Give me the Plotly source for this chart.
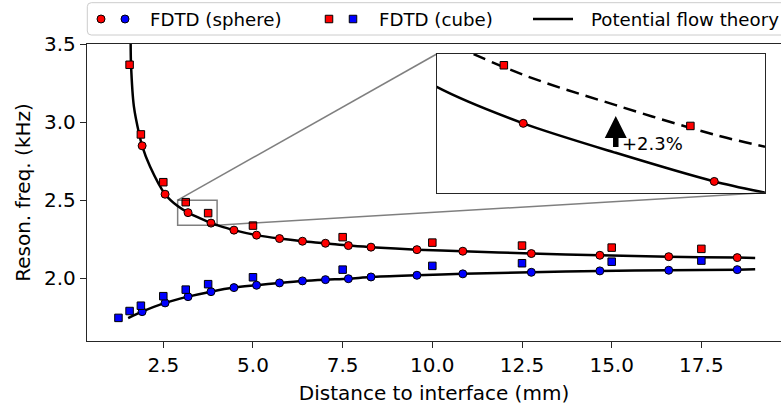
import plotly.graph_objects as go

# ---------------- data ----------------
sphere_x = [1.91, 2.55, 3.19, 3.83, 4.47, 5.10, 5.74, 6.38, 7.02, 7.66, 8.29,
            9.57, 10.85, 12.76, 14.67, 16.59, 18.50]
sphere_upper = [2.848, 2.538, 2.420, 2.353, 2.308, 2.276, 2.254, 2.237, 2.224,
                2.209, 2.199, 2.183, 2.173, 2.158, 2.147, 2.138, 2.132]
sphere_lower = [1.786, 1.842, 1.882, 1.914, 1.940, 1.955, 1.970, 1.983, 1.991,
                1.997, 2.008, 2.019, 2.028, 2.038, 2.047, 2.051, 2.055]

cube_upper_x = [1.56, 1.875, 2.5, 3.125, 3.75, 5.0, 7.5, 10.0, 12.5, 15.0, 17.5]
cube_upper = [3.367, 2.921, 2.615, 2.487, 2.417, 2.337, 2.263, 2.228, 2.209,
              2.196, 2.188]
cube_lower_x = [1.25, 1.56, 1.875, 2.5, 3.125, 3.75, 5.0, 7.5, 10.0, 12.5, 15.0, 17.5]
cube_lower = [1.746, 1.790, 1.824, 1.885, 1.927, 1.962, 2.006, 2.055, 2.079,
              2.096, 2.106, 2.113]

theory_upper_x = [1.59, 1.60, 1.68, 1.83, 1.91, 2.13, 2.55, 2.9, 3.19, 3.5,
                  3.83, 4.0, 4.47, 5.10, 5.74, 6.38, 7.02, 7.66, 8.29, 9.57,
                  10.85, 12.76, 14.67, 16.59, 18.50, 19.0]
theory_upper = [3.50, 3.37, 3.10, 2.92, 2.848, 2.715, 2.538, 2.462, 2.420, 2.386,
                2.353, 2.340, 2.308, 2.276, 2.254, 2.237, 2.224, 2.209, 2.199,
                2.183, 2.173, 2.158, 2.147, 2.138, 2.132, 2.130]
theory_lower_x = [1.52, 1.91, 2.55, 3.19, 3.83, 4.47, 5.10, 5.74, 6.38, 7.02,
                  7.66, 8.29, 9.57, 10.85, 12.76, 14.67, 16.59, 18.50, 19.0]
theory_lower = [1.745, 1.786, 1.842, 1.882, 1.914, 1.940, 1.955, 1.970, 1.983,
                1.991, 1.997, 2.008, 2.019, 2.028, 2.038, 2.047, 2.051, 2.055, 2.057]

# theory shifted by +2.3 % (dashed line in the inset)
shifted_x = [2.9, 3.19, 3.5, 3.83, 4.0]
shifted_y = [2.519, 2.476, 2.441, 2.407, 2.393]

x_ticks = [2.5, 5.0, 7.5, 10.0, 12.5, 15.0, 17.5]
x_tick_labels = ["2.5", "5.0", "7.5", "10.0", "12.5", "15.0", "17.5"]
y_ticks = [2.0, 2.5, 3.0, 3.5]
y_tick_labels = ["2.0", "2.5", "3.0", "3.5"]

arrow_x = 3.5
arrow_y = [2.391, 2.4285]
arrow_label = "+2.3%"

legend_labels = ["FDTD (sphere)", "FDTD (cube)", "Potential flow theory"]

# ---------------- layout constants ----------------
W, H = 781, 406
FONT = "DejaVu Sans"
RED, BLUE = "#ff0000", "#0000ff"
AX = "#262626"

main_dx = [87 / W, 1.0]
main_dy = [(H - 341) / H, (H - 44) / H]
inset_dx = [436.7 / W, 765 / W]
inset_dy = [(H - 192.7) / H, (H - 54) / H]
xr = [0.373, 19.72]
yr = [1.598, 3.5]
ixr = [2.9, 4.0]
iyr = [2.34, 2.50]


def px_main(p):
    return xr[0] + (p - main_dx[0]) / (main_dx[1] - main_dx[0]) * (xr[1] - xr[0])


def py_main(p):
    return yr[0] + (p - main_dy[0]) / (main_dy[1] - main_dy[0]) * (yr[1] - yr[0])


fig = go.Figure()

line_style = dict(color="black", width=2.5, shape="spline", smoothing=0.8)
circ = dict(symbol="circle", size=8, line=dict(color="black", width=1))
sq = dict(symbol="square", size=7.5, line=dict(color="black", width=1))

for xa, ya in (("x", "y"), ("x2", "y2")):
    fig.add_trace(go.Scatter(x=theory_upper_x, y=theory_upper, mode="lines",
                             line=line_style, xaxis=xa, yaxis=ya, showlegend=False,
                             hoverinfo="skip"))
    if xa == "x":
        fig.add_trace(go.Scatter(x=theory_lower_x, y=theory_lower, mode="lines",
                                 line=line_style, xaxis=xa, yaxis=ya, showlegend=False,
                                 hoverinfo="skip"))
    else:
        fig.add_trace(go.Scatter(x=shifted_x, y=shifted_y, mode="lines",
                                 line=dict(color="black", width=2.5, dash="13px,7px",
                                           shape="spline"),
                                 xaxis=xa, yaxis=ya, showlegend=False))
    fig.add_trace(go.Scatter(x=sphere_x, y=sphere_upper, mode="markers",
                             marker=dict(color=RED, **circ), xaxis=xa, yaxis=ya,
                             showlegend=False))
    fig.add_trace(go.Scatter(x=cube_upper_x, y=cube_upper, mode="markers",
                             marker=dict(color=RED, **sq), xaxis=xa, yaxis=ya,
                             showlegend=False))
    if xa == "x":
        fig.add_trace(go.Scatter(x=sphere_x, y=sphere_lower, mode="markers",
                                 marker=dict(color=BLUE, **circ), xaxis=xa, yaxis=ya,
                                 showlegend=False))
        fig.add_trace(go.Scatter(x=cube_lower_x, y=cube_lower, mode="markers",
                                 marker=dict(color=BLUE, **sq), xaxis=xa, yaxis=ya,
                                 showlegend=False))

# ---------------- custom legend (pixel overlay axis) ----------------
LY = 19
fig.add_trace(go.Scatter(x=[101, 125], y=[LY, LY], mode="markers",
                         marker=dict(color=[RED, BLUE], **circ),
                         xaxis="x3", yaxis="y3", showlegend=False, hoverinfo="skip"))
fig.add_trace(go.Scatter(x=[329, 353], y=[LY, LY], mode="markers",
                         marker=dict(color=[RED, BLUE], **sq),
                         xaxis="x3", yaxis="y3", showlegend=False, hoverinfo="skip"))

shapes = []
# legend frame (rounded)
x0, x1, y0, y1, r = 87.3, 800, 2.7, 35, 4
shapes.append(dict(type="path", xref="x3", yref="y3", layer="below",
                   path=(f"M{x0+r},{y0} L{x1-r},{y0} Q{x1},{y0} {x1},{y0+r} "
                         f"L{x1},{y1-r} Q{x1},{y1} {x1-r},{y1} L{x0+r},{y1} "
                         f"Q{x0},{y1} {x0},{y1-r} L{x0},{y0+r} Q{x0},{y0} {x0+r},{y0} Z"),
                   line=dict(color="#cccccc", width=1), fillcolor="white"))
shapes.append(dict(type="line", xref="x3", yref="y3", x0=533, x1=573, y0=LY, y1=LY,
                   line=dict(color="black", width=2.5)))

# zoom rectangle and connectors
gray = dict(color="rgba(0,0,0,0.5)", width=1.5)
shapes.append(dict(type="rect", xref="x", yref="y", x0=ixr[0], x1=ixr[1],
                   y0=iyr[0], y1=iyr[1], line=gray))
shapes.append(dict(type="line", xref="x", yref="y", x0=ixr[0], y0=iyr[1],
                   x1=px_main(inset_dx[0]), y1=py_main(inset_dy[1]), line=gray))
shapes.append(dict(type="line", xref="x", yref="y", x0=ixr[1], y0=iyr[0],
                   x1=px_main(inset_dx[1]), y1=py_main(inset_dy[0]), line=gray))

annotations = []
for x, t in zip([148, 377, 589], legend_labels):
    annotations.append(dict(x=x, y=LY, xref="x3", yref="y3", text=t, showarrow=False,
                            xanchor="left", yanchor="middle",
                            font=dict(family=FONT, size=18.2, color="black")))
annotations.append(dict(x=arrow_x, y=arrow_y[1], ax=arrow_x, ay=arrow_y[0],
                        xref="x2", yref="y2", axref="x2", ayref="y2", text="",
                        showarrow=True, arrowhead=2, arrowwidth=5.5, arrowsize=0.8,
                        arrowcolor="black"))
annotations.append(dict(x=3.515, y=2.397, xref="x2", yref="y2", text=arrow_label,
                        showarrow=False, xanchor="left", yanchor="middle",
                        font=dict(family=FONT, size=18, color="black")))

axis_common = dict(showgrid=False, zeroline=False, showline=True, linecolor=AX,
                   linewidth=1.3, automargin=False)

fig.update_layout(
    width=W, height=H,
    margin=dict(l=0, r=0, t=0, b=0),
    paper_bgcolor="white", plot_bgcolor="rgba(0,0,0,0)",
    template="none",
    font=dict(family=FONT, color="black"),
    showlegend=False,
    xaxis=dict(domain=main_dx, range=xr, mirror=True, ticks="outside", ticklen=6,
               tickwidth=1.3, tickcolor=AX, tickvals=x_ticks, ticktext=x_tick_labels,
               tickfont=dict(size=20),
               title=dict(text="Distance to interface (mm)", font=dict(size=20),
                          standoff=9),
               anchor="y", **axis_common),
    yaxis=dict(domain=main_dy, range=yr, mirror=False, ticks="outside", ticklen=6,
               tickwidth=1.3, tickcolor=AX, tickvals=y_ticks, ticktext=y_tick_labels,
               tickfont=dict(size=20),
               title=dict(text="Reson. freq. (kHz)", font=dict(size=20), standoff=8),
               anchor="x", **axis_common),
    xaxis2=dict(domain=inset_dx, range=ixr, mirror=True, ticks="",
                showticklabels=False, anchor="y2", **axis_common),
    yaxis2=dict(domain=inset_dy, range=iyr, mirror=True, ticks="",
                showticklabels=False, anchor="x2", **axis_common),
    xaxis3=dict(domain=[0, 1], range=[0, W], visible=False, anchor="y3",
                fixedrange=True),
    yaxis3=dict(domain=[0, 1], range=[H, 0], visible=False, anchor="x3",
                fixedrange=True),
    shapes=shapes,
    annotations=annotations,
)

fig.write_html("out.html",
               config={"displayModeBar": False},
               post_script="document.body.style.margin='0px';"
                           "document.body.style.overflow='hidden';")
